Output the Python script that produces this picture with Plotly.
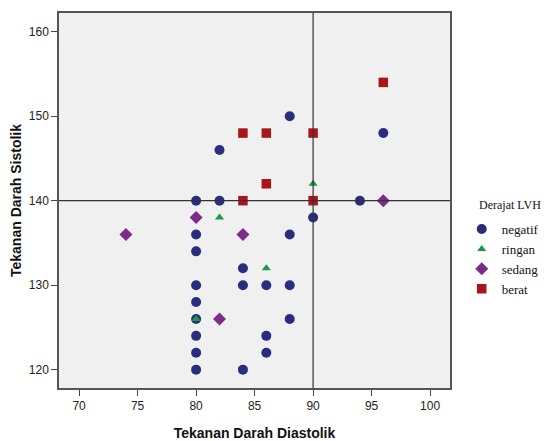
import plotly.graph_objects as go

# ---- data ----
negatif_x = [80, 82, 82, 88, 96, 80, 80, 80, 80, 80, 80, 80, 80, 84, 84, 84, 86, 86, 86, 88, 88, 88, 90, 94]
negatif_y = [140, 140, 146, 150, 148, 136, 134, 130, 128, 126, 124, 122, 120, 132, 130, 120, 130, 124, 122, 136, 130, 126, 138, 140]

ringan_x = [82, 80, 86, 90]
ringan_y = [138, 126, 132, 142]

sedang_x = [74, 80, 84, 82, 96]
sedang_y = [136, 138, 136, 126, 140]

berat_x = [84, 86, 90, 96, 86, 84, 90]
berat_y = [148, 148, 148, 154, 142, 140, 140]

ref_x = 90
ref_y = 140

x_ticks = [70, 75, 80, 85, 90, 95, 100]
y_ticks = [120, 130, 140, 150, 160]

x_title = "Tekanan Darah Diastolik"
y_title = "Tekanan Darah Sistolik"
legend_title = "Derajat LVH"

series = [
    ("negatif", negatif_x, negatif_y, "circle", "#2A2C7E", 10),
    ("ringan", ringan_x, ringan_y, "triangle-up", "#179A4A", 8),
    ("sedang", sedang_x, sedang_y, "diamond", "#7D2A8A", 10),
    ("berat", berat_x, berat_y, "square", "#A8161C", 9.5),
]

fig = go.Figure()
for name, xs, ys, sym, col, sz in series:
    fig.add_trace(go.Scatter(
        x=xs, y=ys, mode="markers", name=name,
        marker=dict(symbol=sym, color=col, size=sz, line=dict(width=0)),
    ))

fig.add_vline(x=ref_x, line=dict(color="#333333", width=1.2), layer="above")
fig.add_hline(y=ref_y, line=dict(color="#333333", width=1.2), layer="above")

tick_font = dict(family="Liberation Sans Narrow, Arial Narrow, Liberation Sans, Arial", size=12, color="#222222")
title_font = dict(family="Liberation Sans, Arial", size=14, color="#111111")
legend_font = dict(family="Liberation Serif, Times New Roman, serif", size=13, color="#111111")
legend_title_font = dict(family="Liberation Serif, Times New Roman, serif", size=12, color="#111111")

fig.update_layout(
    width=548, height=441,
    margin=dict(l=58.5, r=97.5, t=13, b=53, autoexpand=False),
    paper_bgcolor="white",
    plot_bgcolor="#F0F0F0",
    showlegend=True,
    legend=dict(
        font=legend_font,
        x=1.03, xanchor="left", y=0.4637, yanchor="top",
        bgcolor="rgba(0,0,0,0)", itemwidth=30, tracegroupgap=0,
    ),
    annotations=[dict(
        text=legend_title, xref="paper", yref="paper", x=1.07, y=0.488,
        xanchor="left", yanchor="middle", showarrow=False, font=legend_title_font,
    )],
    xaxis=dict(
        range=[68.28, 101.7], tickvals=x_ticks, ticks="outside", ticklen=6, tickwidth=1.2,
        tickcolor="#444444", showgrid=False, zeroline=False, showline=True, mirror=True,
        linecolor="#555555", linewidth=1.5, tickfont=tick_font, automargin=False,
        title=dict(text="<b>" + x_title + "</b>", font=title_font, standoff=20),
    ),
    yaxis=dict(
        range=[117.83, 162.21], tickvals=y_ticks, ticks="outside", ticklen=6, tickwidth=1.2,
        tickcolor="#444444", showgrid=False, zeroline=False, showline=True, mirror=True,
        linecolor="#555555", linewidth=1.5, tickfont=tick_font, automargin=False,
        title=dict(text="<b>" + y_title + "</b>", font=title_font, standoff=4),
    ),
)

fig.write_html("out.html")
